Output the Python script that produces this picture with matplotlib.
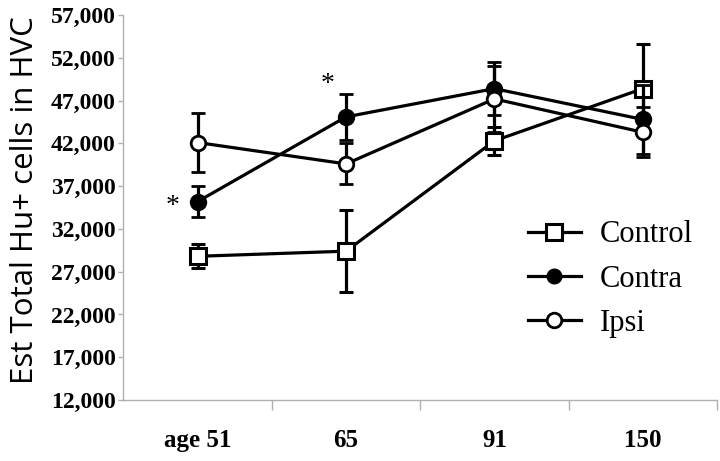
import matplotlib
matplotlib.use("Agg")
import matplotlib.pyplot as plt
from matplotlib.ticker import FuncFormatter, FixedLocator
from matplotlib.lines import Line2D
import numpy as np

categories = ["age 51", "65", "91", "150"]
control = [28800, 29400, 42300, 48400]
control_err = [1400, 4800, 1600, 5200]
contra = [35200, 45100, 48400, 44800]
contra_err = [1800, 2700, 3100, 4000]
ipsi = [42100, 39600, 47200, 43300]
ipsi_err = [3500, 2400, 3900, 2900]
yticks = list(range(12000, 57001, 5000))

fig = plt.figure(figsize=(7.2, 4.61), dpi=100)
ax = fig.add_axes([0.1715, 0.1323, 0.8243, 0.835])
x = np.arange(len(categories))

lw = 2.3
common = dict(color="black", linewidth=lw, elinewidth=2.3, capsize=4.7, capthick=2.3)
ax.errorbar(x, control, yerr=control_err, marker="s", markersize=12,
            markerfacecolor="white", markeredgecolor="black", markeredgewidth=2.2,
            zorder=3, **common)
ax.errorbar(x, contra, yerr=contra_err, marker="o", markersize=10.5,
            markerfacecolor="black", markeredgecolor="black", markeredgewidth=2.0,
            zorder=4, **common)
ax.errorbar(x, ipsi, yerr=ipsi_err, marker="o", markersize=10.5,
            markerfacecolor="white", markeredgecolor="black", markeredgewidth=2.0,
            zorder=5, **common)

ax.set_xlim(-0.5, 3.5)
ax.set_ylim(12000, 57000)
ax.set_yticks(yticks)
ax.yaxis.set_major_formatter(FuncFormatter(lambda v, p: f"{int(v):,}"))

# x: tick marks at category boundaries, labels at centres
ax.xaxis.set_major_locator(FixedLocator([0.5, 1.5, 2.5, 3.5]))
ax.xaxis.set_minor_locator(FixedLocator(list(x)))
ax.set_xticklabels([], minor=False)
ax.set_xticklabels(categories, minor=True)
ax.tick_params(axis="x", which="major", length=7, color="#b0b0b0", width=1)
ax.tick_params(axis="x", which="minor", length=0, pad=21)

ax.tick_params(axis="y", length=3.6, color="#b0b0b0", width=1, pad=2)

serif = "Liberation Serif"
for lab in ax.get_yticklabels():
    lab.set_fontfamily(serif); lab.set_fontweight("bold"); lab.set_fontsize(17)
for lab in ax.get_xticklabels(minor=True):
    lab.set_fontfamily(serif); lab.set_fontweight("bold"); lab.set_fontsize(18)

for s in ["top", "right"]:
    ax.spines[s].set_visible(False)
for s in ["left", "bottom"]:
    ax.spines[s].set_color("#b0b0b0")
    ax.spines[s].set_linewidth(1)

fig.text(0.035, 0.565, "Est Total Hu+ cells in HVC", rotation=90, fontsize=22.5,
         family="Open Sans", ha="center", va="center")

ax.text(-0.166, 33860, "*", fontsize=20, family=serif, ha="center", va="baseline")
ax.text(0.878, 48120, "*", fontsize=20, family=serif, ha="center", va="baseline")

handles = [
    Line2D([], [], color="black", linewidth=2.3, marker="s", markersize=12,
           markerfacecolor="white", markeredgecolor="black", markeredgewidth=2.2),
    Line2D([], [], color="black", linewidth=2.3, marker="o", markersize=10.5,
           markerfacecolor="black", markeredgecolor="black"),
    Line2D([], [], color="black", linewidth=2.3, marker="o", markersize=10.5,
           markerfacecolor="white", markeredgecolor="black", markeredgewidth=2.0),
]
leg = fig.legend(handles, ["Control", "Contra", "Ipsi"], loc="upper left",
                 bbox_to_anchor=(0.733, 0.522), bbox_transform=fig.transFigure,
                 frameon=False, prop={"family": serif, "size": 22},
                 handlelength=1.75, labelspacing=0.5, handletextpad=0.6,
                 borderpad=0, borderaxespad=0)

fig.savefig("out.png", dpi=100)
